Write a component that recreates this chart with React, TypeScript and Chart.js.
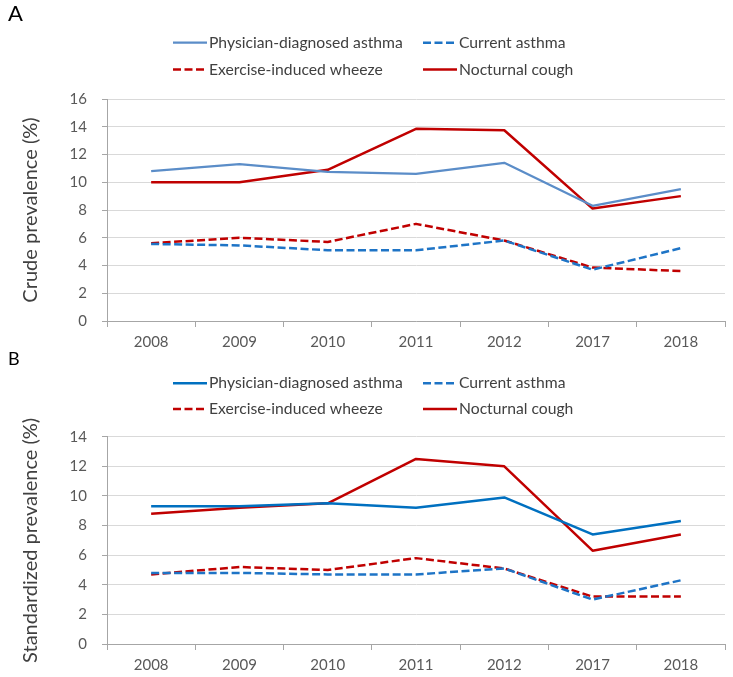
import React, { useEffect, useRef } from "react";
import { Chart, registerables } from "chart.js";

Chart.register(...registerables);

// ---------- data ----------
const years = ["2008", "2009", "2010", "2011", "2012", "2017", "2018"];
const seriesNames = [
  "Physician-diagnosed asthma",
  "Current asthma",
  "Exercise-induced wheeze",
  "Nocturnal cough",
];

// Panel A: crude prevalence (%)
const crudePhysician = [10.8, 11.3, 10.75, 10.6, 11.4, 8.3, 9.5];
const crudeCurrent = [5.55, 5.45, 5.1, 5.1, 5.8, 3.7, 5.25];
const crudeExercise = [5.6, 6.0, 5.7, 7.0, 5.8, 3.85, 3.6];
const crudeNocturnal = [10.0, 10.0, 10.9, 13.85, 13.75, 8.1, 9.0];

// Panel B: standardized prevalence (%)
const stdPhysician = [9.3, 9.3, 9.5, 9.2, 9.9, 7.4, 8.3];
const stdCurrent = [4.8, 4.8, 4.7, 4.7, 5.1, 3.0, 4.3];
const stdExercise = [4.7, 5.2, 5.0, 5.8, 5.1, 3.2, 3.2];
const stdNocturnal = [8.8, 9.2, 9.5, 12.5, 12.0, 6.3, 7.4];

// ---------- styling ----------
const FONT = "Lato, 'Open Sans', sans-serif";
const RED = "#C00000";
const DASH_BLUE = "#1E74C6";

const gridLegend = {
  id: "gridLegend",
  afterDraw(chart: any, _args: any, opts: any) {
    const { ctx } = chart;
    const ds = chart.data.datasets;
    ctx.save();
    ctx.font = `${opts.fontSize}px ${FONT}`;
    ctx.textBaseline = "middle";
    ctx.textAlign = "left";
    opts.rows.forEach((row: number[], r: number) => {
      const y = opts.rowY[r];
      row.forEach((idx: number, c: number) => {
        const d = ds[idx];
        const x = opts.colX[c];
        ctx.strokeStyle = d.borderColor;
        ctx.lineWidth = d.borderWidth;
        ctx.setLineDash(d.borderDash || []);
        ctx.lineCap = "butt";
        ctx.beginPath();
        ctx.moveTo(x, y);
        ctx.lineTo(x + opts.lineLen, y);
        ctx.stroke();
        ctx.setLineDash([]);
        ctx.fillStyle = opts.color;
        ctx.fillText(d.label, x + opts.lineLen + opts.textGap, y);
      });
    });
    ctx.restore();
  },
};

type PanelProps = {
  letter: string;
  letterSize: number;
  letterPad: { top: number; bottom: number };
  letterLineHeight: number;
  yTitle: string;
  yMax: number;
  series: number[][];
  colors: string[];
  widths: number[];
  height: number;
  xScaleHeight: number;
  legendRowY: number[];
};

function Panel(p: PanelProps) {
  const ref = useRef<HTMLCanvasElement | null>(null);
  useEffect(() => {
    if (!ref.current) return;
    const dashes = [[], [8, 3.5], [8, 3.5], []];
    const chart = new Chart(ref.current, {
      type: "line",
      data: {
        labels: years,
        datasets: seriesNames.map((name, i) => ({
          label: name,
          data: p.series[i],
          borderColor: p.colors[i],
          backgroundColor: p.colors[i],
          borderWidth: p.widths[i],
          borderDash: dashes[i],
          borderJoinStyle: "round",
          pointRadius: 0,
          fill: false,
          tension: 0,
        })),
      },
      options: {
        responsive: false,
        animation: false,
        layout: { padding: { left: 8, right: 8, top: 0, bottom: 0 } },
        plugins: {
          legend: { display: false },
          tooltip: { enabled: false },
          title: {
            display: true,
            text: p.letter,
            align: "start",
            color: "#000000",
            font: {
              family: FONT,
              size: p.letterSize,
              weight: "normal",
              lineHeight: p.letterLineHeight,
            },
            padding: p.letterPad,
          },
          gridLegend: {
            rows: [
              [0, 1],
              [2, 3],
            ],
            rowY: p.legendRowY,
            colX: [173, 423],
            lineLen: 34,
            textGap: 2,
            fontSize: 15.7,
            color: "#404040",
          },
        } as any,
        scales: {
          x: {
            offset: true,
            grid: {
              display: true,
              offset: true,
              drawOnChartArea: false,
              drawTicks: true,
              tickLength: 6,
              tickColor: "#A6A6A6",
              tickWidth: 1,
            },
            border: { display: true, color: "#A6A6A6", width: 1 },
            ticks: {
              color: "#595959",
              font: { family: FONT, size: 15 },
              padding: 6.5,
              maxRotation: 0,
            },
            afterFit: (s: any) => {
              s.height = p.xScaleHeight;
            },
          },
          y: {
            min: 0,
            max: p.yMax,
            grid: {
              color: "#D9D9D9",
              lineWidth: 1,
              drawTicks: true,
              tickLength: 5,
              tickColor: "#A6A6A6",
            },
            border: { display: true, color: "#A6A6A6", width: 1 },
            ticks: {
              stepSize: 2,
              color: "#595959",
              font: { family: FONT, size: 15 },
              padding: 15,
            },
            title: {
              display: true,
              text: p.yTitle,
              color: "#404040",
              font: { family: FONT, size: 20 },
              padding: { top: 11, bottom: 0 },
            },
            afterFit: (s: any) => {
              s.width = 99;
            },
          },
        },
      },
      plugins: [gridLegend],
    } as any);
    return () => chart.destroy();
  }, []);
  return (
    <canvas
      ref={ref}
      width={733}
      height={p.height}
      style={{ display: "block", width: 733, height: p.height }}
    />
  );
}

export default function App() {
  useEffect(() => {
    document.body.style.margin = "0";
  }, []);
  return (
    <div style={{ width: 733, background: "#ffffff" }}>
      <Panel
        letter="A"
        letterSize={22}
        letterLineHeight={1.2}
        letterPad={{ top: 1, bottom: 71.6 }}
        yTitle="Crude prevalence (%)"
        yMax={16}
        series={[crudePhysician, crudeCurrent, crudeExercise, crudeNocturnal]}
        colors={["#5B8DC8", DASH_BLUE, RED, RED]}
        widths={[2.25, 2.5, 2.5, 2.5]}
        height={350}
        xScaleHeight={29}
        legendRowY={[42.7, 69.5]}
      />
      <Panel
        letter="B"
        letterSize={18}
        letterLineHeight={1}
        letterPad={{ top: 0, bottom: 68.7 }}
        yTitle="Standardized prevalence (%)"
        yMax={14}
        series={[stdPhysician, stdCurrent, stdExercise, stdNocturnal]}
        colors={["#0070C0", DASH_BLUE, RED, RED]}
        widths={[2.5, 2.5, 2.5, 2.5]}
        height={327}
        xScaleHeight={33}
        legendRowY={[33.3, 59]}
      />
    </div>
  );
}
